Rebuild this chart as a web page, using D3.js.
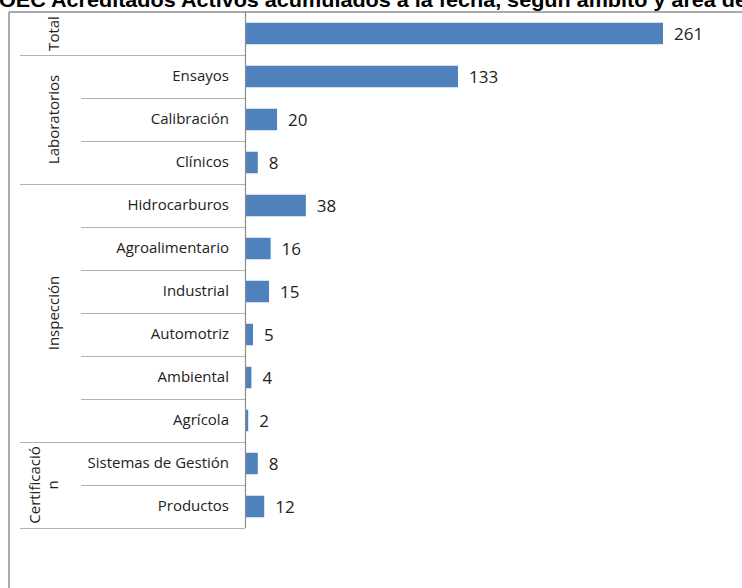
<!DOCTYPE html>
<html lang="es">
<head>
    <meta charset="utf-8">
    <script type="text/javascript" src="https://d3js.org/d3.v7.min.js"></script>
</head>
<style>
    body { margin: 0; background: #fff; }
    .cat { font-family: "Open Sans", sans-serif; font-size: 15px; fill: #222; }
    .val { font-family: "Open Sans", sans-serif; font-size: 17px; fill: #222; }
    .title { font-family: "Liberation Sans", Arial, sans-serif; font-size: 20px; font-weight: bold; fill: #000; }
</style>
<body>
<div id="chart"></div>
<script type="text/javascript">
  // chart data
  const categories = ["", "Ensayos", "Calibración", "Clínicos", "Hidrocarburos", "Agroalimentario",
    "Industrial", "Automotriz", "Ambiental", "Agrícola", "Sistemas de Gestión", "Productos"];
  const values = [261, 133, 20, 8, 38, 16, 15, 5, 4, 2, 8, 12];
  const groupLabels = [["Total"], ["Laboratorios"], ["Inspección"], ["Certificació", "n"]];
  const groupOf = [0, 1, 1, 1, 2, 2, 2, 2, 2, 2, 3, 3];
  const titleText = "OEC Acreditados Activos acumulados a la fecha, según ámbito y área de";

  const svgWidth = 742, svgHeight = 588;
  const plot = {top: 12, bottom: 528, left: 245};

  const svg = d3.select("#chart")
    .append("svg")
    .attr("width", svgWidth)
    .attr("height", svgHeight);

  const idx = d3.range(categories.length);

  const x = d3.scaleLinear().domain([0, 261]).range([plot.left, 663]);
  const y = d3.scaleBand().domain(idx).range([plot.top, plot.bottom])
    .paddingInner(0.5)
    .paddingOuter(0.25);
  const step = y.step();

  // title (the top of it is cut off in the original too)
  svg.append("text")
    .attr("class", "title")
    .attr("x", -1)
    .attr("y", 7)
    .attr("textLength", 748)
    .attr("lengthAdjust", "spacingAndGlyphs")
    .text(titleText);

  // outer frame
  svg.append("line")
    .attr("x1", 9).attr("x2", svgWidth).attr("y1", plot.top).attr("y2", plot.top)
    .attr("stroke", "#8c8c8c").attr("stroke-width", 1.5);
  svg.append("line")
    .attr("x1", 9).attr("x2", 9).attr("y1", plot.top).attr("y2", svgHeight)
    .attr("stroke", "#8c8c8c").attr("stroke-width", 1.5);

  // row separators: long ones where the group changes
  const seps = d3.range(1, categories.length + 1);
  svg.append("g").selectAll("line").data(seps).enter().append("line")
    .attr("x1", d => (d === categories.length || groupOf[d] !== groupOf[d - 1]) ? 20 : 81)
    .attr("x2", plot.left)
    .attr("y1", d => Math.round(plot.top + d * step) + 0.5)
    .attr("y2", d => Math.round(plot.top + d * step) + 0.5)
    .attr("stroke", "#b0b0b0")
    .attr("stroke-width", 1.2);

  // bars
  svg.append("g").selectAll("rect").data(idx).enter().append("rect")
    .attr("x", x(0))
    .attr("y", d => y(d))
    .attr("height", y.bandwidth())
    .attr("width", d => x(values[d]) - x(0))
    .attr("fill", "#4f81bd");

  // category axis line
  svg.append("line")
    .attr("x1", plot.left + 0.5).attr("x2", plot.left + 0.5)
    .attr("y1", plot.top).attr("y2", plot.bottom)
    .attr("stroke", "#8c8c8c").attr("stroke-width", 1.2);

  // category labels
  svg.append("g").selectAll("text").data(idx).enter().append("text")
    .attr("class", "cat")
    .attr("x", 229)
    .attr("y", d => y(d) + y.bandwidth() / 2)
    .attr("dy", "0.3em")
    .attr("text-anchor", "end")
    .text(d => categories[d]);

  // value labels
  svg.append("g").selectAll("text").data(idx).enter().append("text")
    .attr("class", "val")
    .attr("x", d => x(values[d]) + 11)
    .attr("y", d => y(d) + y.bandwidth() / 2)
    .attr("dy", "0.4em")
    .text(d => values[d]);

  // group labels, rotated
  groupLabels.forEach((lines, g) => {
    const rows = idx.filter(i => groupOf[i] === g);
    const cy = plot.top + (rows[0] + rows[rows.length - 1] + 1) / 2 * step;
    const x0 = lines.length > 1 ? 35 : 54;
    lines.forEach((t, k) => {
      svg.append("text")
        .attr("class", "cat")
        .attr("transform", "translate(" + (x0 + k * 18) + "," + cy + ")rotate(-90)")
        .attr("text-anchor", "middle")
        .attr("dy", "0.35em")
        .text(t);
    });
  });
</script>
</body>
</html>
